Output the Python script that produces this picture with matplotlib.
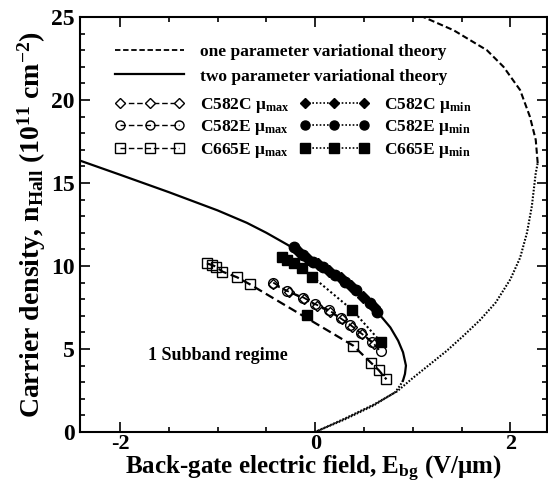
import matplotlib
matplotlib.use("Agg")
import matplotlib.pyplot as plt
from matplotlib.lines import Line2D
from matplotlib.ticker import MultipleLocator

plt.rcParams['font.family'] = ['Liberation Serif', 'DejaVu Serif']
plt.rcParams['font.weight'] = 'bold'
plt.rcParams['axes.unicode_minus'] = False
plt.rcParams['mathtext.fontset'] = 'custom'
plt.rcParams['mathtext.rm'] = 'Liberation Serif:bold'
plt.rcParams['mathtext.it'] = 'Liberation Serif:bold'
plt.rcParams['mathtext.bf'] = 'Liberation Serif:bold'

# ---- data ----
# one parameter variational theory (lower part dotted, upper part dashed)
one_low_x = [0.0, 0.3, 0.6, 0.84, 1.0, 1.17, 1.35, 1.52, 1.69, 1.85, 2.0, 2.1,
             2.17, 2.22, 2.26, 2.28]
one_low_y = [0.0, 0.8, 1.65, 2.45, 3.25, 4.05, 4.9, 5.8, 6.75, 7.8, 9.2, 10.5,
             12.0, 13.6, 15.6, 16.2]
one_up_x = [2.28, 2.26, 2.2, 2.1, 1.93, 1.76, 1.42, 1.11]
one_up_y = [16.2, 17.6, 19.0, 20.6, 22.0, 23.0, 24.2, 25.0]

# two parameter variational theory (solid, lower part dotted)
two_param_x = [-2.41, -2.0, -1.5, -1.0, -0.7, -0.5, -0.29, 0.0, 0.2, 0.4, 0.55,
               0.67, 0.77, 0.85, 0.9, 0.93, 0.92, 0.9]
two_param_y = [16.35, 15.5, 14.45, 13.35, 12.6, 12.0, 11.3, 10.3, 9.5, 8.6, 7.8,
               7.0, 6.3, 5.5, 4.8, 4.0, 3.5, 3.1]
two_low_x = [0.9, 0.87, 0.82, 0.6, 0.3, 0.0]
two_low_y = [3.1, 2.8, 2.4, 1.6, 0.75, 0.0]

c582c_max_x = [-0.43, -0.27, -0.11, 0.02, 0.15, 0.27, 0.38, 0.48, 0.6]
c582c_max_y = [8.9, 8.45, 8.0, 7.6, 7.25, 6.8, 6.35, 5.9, 5.3]
c582e_max_x = [-0.43, -0.29, -0.12, 0.0, 0.14, 0.26, 0.36, 0.47, 0.58, 0.67]
c582e_max_y = [9.0, 8.5, 8.1, 7.7, 7.35, 6.85, 6.45, 5.95, 5.45, 4.85]
c665e_max_x = [-1.11, -1.06, -1.015, -0.95, -0.80, -0.67, 0.39, 0.57, 0.65, 0.73]
c665e_max_y = [10.16, 10.06, 9.96, 9.66, 9.32, 8.9, 5.2, 4.18, 3.73, 3.17]

c582c_min_x = [-0.17, -0.07, 0.03, 0.14, 0.26, 0.37, 0.49, 0.6]
c582c_min_y = [10.85, 10.45, 10.1, 9.7, 9.25, 8.8, 8.15, 7.5]
c582e_min_x = [-0.22, -0.12, -0.02, 0.085, 0.2, 0.31, 0.42, 0.56, 0.63]
c582e_min_y = [11.16, 10.66, 10.26, 9.96, 9.46, 9.05, 8.55, 7.75, 7.2]
c665e_min_x = [-0.34, -0.29, -0.22, -0.14, -0.03, 0.38, 0.67]
c665e_min_y = [10.52, 10.36, 10.16, 9.86, 9.36, 7.35, 5.44]
c665e_min_extra_x = [-0.085]
c665e_min_extra_y = [7.05]

fig = plt.figure(figsize=(5.48, 4.87), dpi=100)
ax = fig.add_axes([0.146, 0.113, 0.853, 0.852])

k = 'black'
dot = (0, (0.8, 0.8))
# theory curves
ax.plot(one_up_x, one_up_y, color=k, lw=1.5, ls=(0, (3, 1.5)))
ax.plot(one_low_x, one_low_y, color=k, lw=1.5, ls=dot)
ax.plot(two_param_x, two_param_y, color=k, lw=1.6, ls='-')
ax.plot(two_low_x, two_low_y, color=k, lw=1.5, ls=dot)

ms = 7
# mu_max series (open markers, dashed)
ax.plot(c582c_max_x, c582c_max_y, color=k, lw=1.3, ls=(0, (4, 2)),
        marker='D', ms=5.5, mfc='white', mec=k, mew=1.0)
ax.plot(c582e_max_x, c582e_max_y, color=k, lw=1.3, ls=(0, (4, 2)),
        marker='o', ms=ms, mfc='none', mec=k, mew=1.0)
ax.plot(c665e_max_x, c665e_max_y, color=k, lw=1.6, ls=(0, (4, 2)),
        marker='s', ms=ms, mfc='none', mec=k, mew=1.0)
# mu_min series (filled markers, dotted)
ax.plot(c582c_min_x, c582c_min_y, color=k, lw=1.5, ls=(0, (1, 1.2)),
        marker='D', ms=6, mfc=k, mec=k)
ax.plot(c582e_min_x, c582e_min_y, color=k, lw=1.5, ls=(0, (1, 1.2)),
        marker='o', ms=ms + 0.5, mfc=k, mec=k)
ax.plot(c665e_min_x, c665e_min_y, color=k, lw=1.5, ls=(0, (1, 1.2)),
        marker='s', ms=ms, mfc=k, mec=k)
ax.plot(c665e_min_extra_x, c665e_min_extra_y, ls='none',
        marker='s', ms=ms, mfc=k, mec=k)

ax.text(-1.71, 4.6, '1 Subband regime', fontsize=13, fontweight='bold',
        va='center', ha='left')

ax.set_xlim(-2.41, 2.38)
ax.set_ylim(0, 25)
ax.xaxis.set_major_locator(MultipleLocator(2))
ax.xaxis.set_minor_locator(MultipleLocator(0.5))
ax.yaxis.set_major_locator(MultipleLocator(5))
ax.yaxis.set_minor_locator(MultipleLocator(1))
ax.tick_params(which='both', direction='in', top=True, right=True, width=1.2)
ax.tick_params(which='major', length=7, labelsize=17, pad=4)
ax.tick_params(axis='x', which='major', labelsize=16, pad=1.5)
ax.tick_params(which='minor', length=3.5)
for sp in ax.spines.values():
    sp.set_linewidth(1.5)
for lab in ax.get_xticklabels() + ax.get_yticklabels():
    lab.set_fontweight('bold')

ax.set_xlabel('Back-gate electric field, E$_{\\mathrm{bg}}$ (V/μm)', fontsize=18,
              fontweight='bold', labelpad=0)
ax.set_ylabel('Carrier density, n$_{\\mathrm{Hall}}$ (10$^{\\mathrm{11}}$ cm$^{\\mathrm{-2}}$)',
              fontsize=20, fontweight='bold', labelpad=2)

# legends
h1 = [Line2D([], [], color=k, lw=1.3, ls=(0, (3, 1.5))),
      Line2D([], [], color=k, lw=1.6, ls='-')]
leg1 = ax.legend(h1, ['one parameter variational theory', 'two parameter variational theory'],
                 loc='upper left', bbox_to_anchor=(0.06, 0.952), frameon=False,
                 fontsize=12.5, handlelength=4.0, handletextpad=0.9, labelspacing=0.48,
                 borderaxespad=0)
ax.add_artist(leg1)

h2 = [Line2D([], [], color=k, lw=1.0, ls=(0, (4, 2)), marker='D', ms=5, mfc='white', mec=k),
      Line2D([], [], color=k, lw=1.0, ls=(0, (4, 2)), marker='o', ms=6.5, mfc='none', mec=k),
      Line2D([], [], color=k, lw=1.0, ls=(0, (4, 2)), marker='s', ms=6.5, mfc='none', mec=k),
      Line2D([], [], color=k, lw=1.2, ls=(0, (1, 1.2)), marker='D', ms=5.5, mfc=k, mec=k),
      Line2D([], [], color=k, lw=1.2, ls=(0, (1, 1.2)), marker='o', ms=6.5, mfc=k, mec=k),
      Line2D([], [], color=k, lw=1.2, ls=(0, (1, 1.2)), marker='s', ms=6.5, mfc=k, mec=k)]
labels2 = ['C582C μ$_{\\mathrm{max}}$', 'C582E μ$_{\\mathrm{max}}$', 'C665E μ$_{\\mathrm{max}}$',
           'C582C μ$_{\\mathrm{min}}$', 'C582E μ$_{\\mathrm{min}}$', 'C665E μ$_{\\mathrm{min}}$']
leg2 = ax.legend(h2, labels2, loc='upper left', bbox_to_anchor=(0.06, 0.826),
                 frameon=False, fontsize=12.5, ncol=2, handlelength=4.0,
                 handletextpad=0.9, labelspacing=0.19, columnspacing=0.55,
                 borderaxespad=0, numpoints=3)

fig.savefig('out.png', dpi=100)
